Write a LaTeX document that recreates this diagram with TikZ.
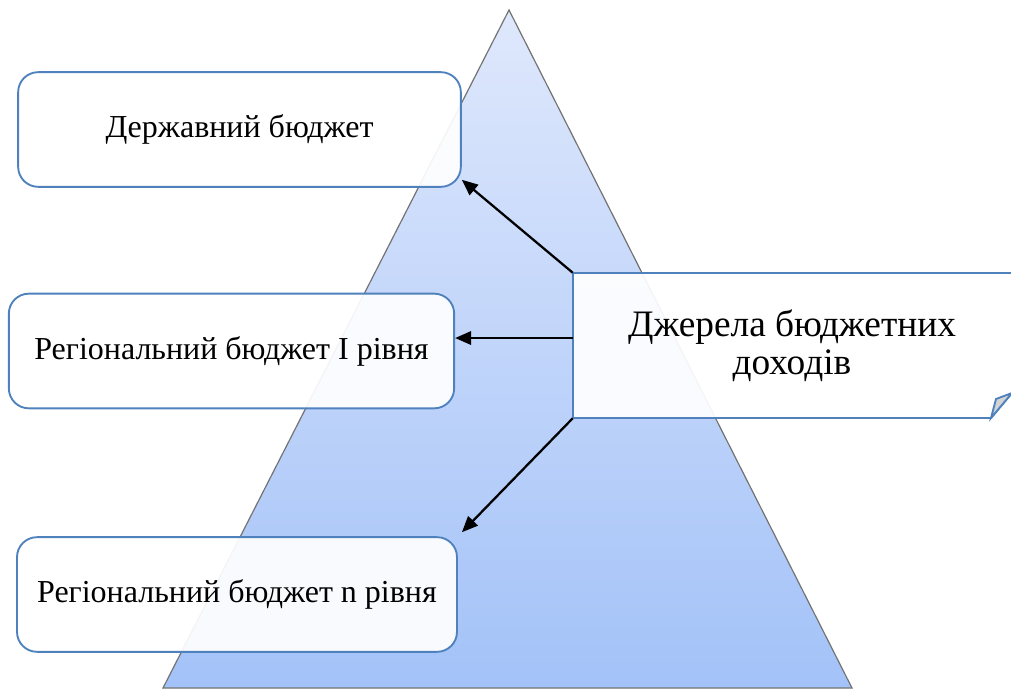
\documentclass[tikz,border=0pt]{standalone}
\usepackage{fontspec}
\setmainfont{Liberation Serif}
\usepackage{tikz}
\usetikzlibrary{arrows.meta}
\definecolor{boxblue}{rgb}{0.31,0.51,0.74}
\definecolor{gray}{rgb}{0.45,0.45,0.45}
\definecolor{tritop}{RGB}{223,232,252}
\definecolor{tribot}{RGB}{163,194,248}
\definecolor{fold}{RGB}{212,212,212}

\begin{document}
\begin{tikzpicture}[x=0.75pt, y=-0.75pt, >={Triangle[length=12pt,width=10pt]},
    every node/.style = {font=\fontsize{24}{28}\selectfont},
    budget/.style = {draw=boxblue, line width=1.4pt, rounded corners=15pt, fill=white,
      fill opacity=0.92, text opacity=1, minimum height=86pt},
    arrow/.style = {->, line width=1.7pt}
    ]
    \useasboundingbox (0,0) rectangle (1011,695);
    \clip (0,0) rectangle (1011,695);
    \shade[top color=tritop, bottom color=tribot, draw=gray, line width=0.9pt]
      (509,10) -- (852,688) -- (163,688) -- cycle;

    \filldraw[draw=boxblue, line width=1.4pt, fill=white, fill opacity=0.92]
      (573,273) -- (1012,273) -- (1012,393) -- (991,418) -- (573,418) -- cycle;
    \filldraw[draw=boxblue, line width=1.4pt, fill=fold] (991,418) -- (996,399) -- (1012,393) -- cycle;

    \node[budget, minimum width=332pt] (1) at (239.5,129.5) {Державний бюджет};
    \node[budget, minimum width=334pt] (2) at (231.5,351) {Регіональний бюджет I рівня};
    \node[budget, minimum width=330pt] (n) at (237,594.5) {Регіональний бюджет n рівня};
    \node[minimum width=328.5pt, minimum height=108.75pt, align=center,
      font=\fontsize{28}{28.5}\selectfont] (src) at (792,345.5) {\raisebox{-3.5pt}{Джерела бюджетних}\\\raisebox{-3.5pt}{доходів}};

    \coordinate (m) at ([yshift=5.6pt]src.west);
    \draw[arrow] (src.north west) -- ([yshift=6pt]1.south east);
    \draw[arrow] (m) -- (m -| 2.east);
    \draw[arrow] (src.south west) -- ([xshift=3pt,yshift=3pt]n.north east);
\end{tikzpicture}
\end{document}
